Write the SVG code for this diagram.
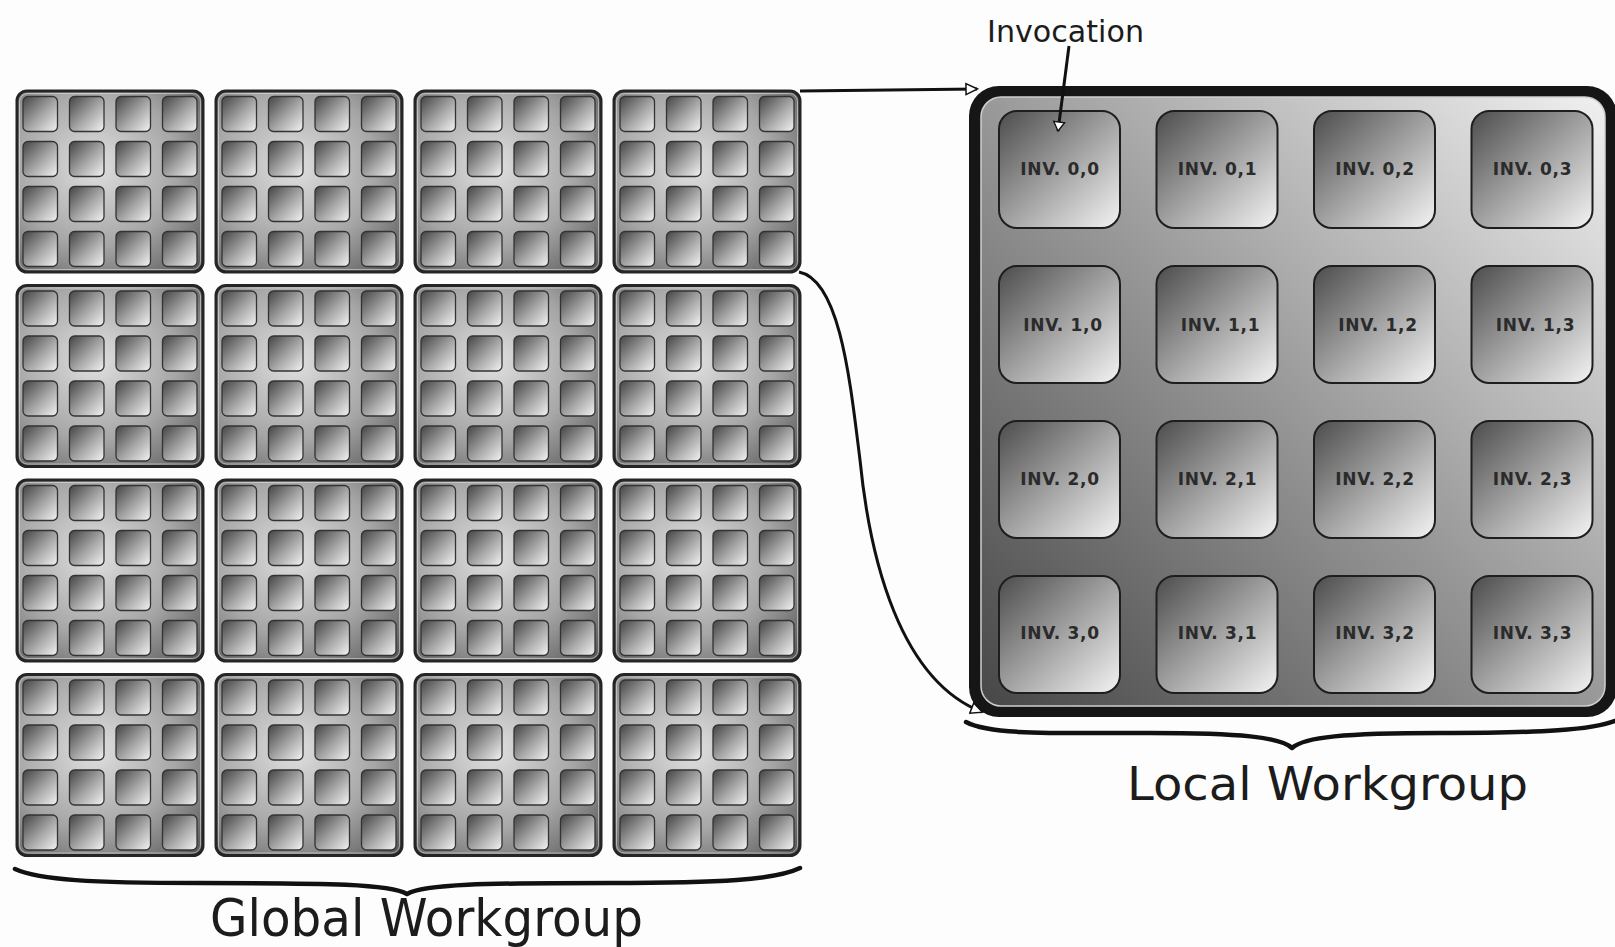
<svg xmlns="http://www.w3.org/2000/svg" xmlns:xlink="http://www.w3.org/1999/xlink" width="1615" height="947" viewBox="0 0 1615 947">
<style>
.tileFrame{fill:url(#tileBg);stroke:#252525;stroke-width:3}
.tileHi{fill:none;stroke:#e6e6e6;stroke-opacity:0.55;stroke-width:1}
.sq{fill:url(#sqGrad);stroke:#333;stroke-width:1.3}
.inv{fill:url(#invGrad);stroke:#1e1e1e;stroke-width:2}
.invText{font-family:"DejaVu Sans",Verdana,sans-serif;font-weight:bold;font-size:17px;letter-spacing:0.7px;fill:#2b2b2b;text-anchor:middle}
.label{font-family:"DejaVu Sans",Verdana,sans-serif;fill:#1c1c1c}
.conn{fill:none;stroke:#111;stroke-width:3}
.brace{fill:none;stroke:#111;stroke-width:4.5;stroke-linecap:round;stroke-linejoin:round}
</style>
<defs>
<radialGradient id="tileBg" cx="0.42" cy="0.42" r="0.8">
<stop offset="0" stop-color="#e0e0e0"/>
<stop offset="0.55" stop-color="#a6a6a6"/>
<stop offset="1" stop-color="#555"/>
</radialGradient>
<linearGradient id="sqGrad" x1="0" y1="0" x2="1" y2="1">
<stop offset="0" stop-color="#444"/>
<stop offset="0.55" stop-color="#a8a8a8"/>
<stop offset="1" stop-color="#f4f4f4"/>
</linearGradient>
<linearGradient id="invGrad" x1="0" y1="0" x2="1" y2="1">
<stop offset="0" stop-color="#4c4c4c"/>
<stop offset="0.55" stop-color="#a9a9a9"/>
<stop offset="1" stop-color="#f4f4f4"/>
</linearGradient>
<linearGradient id="lwBg" x1="0" y1="1" x2="1" y2="0">
<stop offset="0" stop-color="#474747"/>
<stop offset="0.5" stop-color="#999"/>
<stop offset="1" stop-color="#f0f0f0"/>
</linearGradient>
<marker id="arrowOpen" viewBox="0 0 14 14" refX="12" refY="7" markerWidth="14" markerHeight="14" markerUnits="userSpaceOnUse" orient="auto">
<path d="M1,1.5 L12.5,7 L1,12.5 Z" fill="#fff" stroke="#111" stroke-width="1.5"/>
</marker>
<marker id="arrowSmall" viewBox="0 0 12 14" refX="10" refY="7" markerWidth="12" markerHeight="14" markerUnits="userSpaceOnUse" orient="auto">
<path d="M1,1.5 L10,7 L1,12.5 Z" fill="#fff" stroke="#111" stroke-width="1.3"/>
</marker>
<g id="tile">
<rect class="tileFrame" x="0" y="0" width="186" height="181" rx="10"/>
<rect class="tileHi" x="2.5" y="2.5" width="181" height="176" rx="8"/>
<rect class="sq" x="6" y="5.5" width="34.5" height="35" rx="5"/>
<rect class="sq" x="52.5" y="5.5" width="34.5" height="35" rx="5"/>
<rect class="sq" x="99" y="5.5" width="34.5" height="35" rx="5"/>
<rect class="sq" x="145.5" y="5.5" width="34.5" height="35" rx="5"/>
<rect class="sq" x="6" y="50.5" width="34.5" height="35" rx="5"/>
<rect class="sq" x="52.5" y="50.5" width="34.5" height="35" rx="5"/>
<rect class="sq" x="99" y="50.5" width="34.5" height="35" rx="5"/>
<rect class="sq" x="145.5" y="50.5" width="34.5" height="35" rx="5"/>
<rect class="sq" x="6" y="95.5" width="34.5" height="35" rx="5"/>
<rect class="sq" x="52.5" y="95.5" width="34.5" height="35" rx="5"/>
<rect class="sq" x="99" y="95.5" width="34.5" height="35" rx="5"/>
<rect class="sq" x="145.5" y="95.5" width="34.5" height="35" rx="5"/>
<rect class="sq" x="6" y="140.5" width="34.5" height="35" rx="5"/>
<rect class="sq" x="52.5" y="140.5" width="34.5" height="35" rx="5"/>
<rect class="sq" x="99" y="140.5" width="34.5" height="35" rx="5"/>
<rect class="sq" x="145.5" y="140.5" width="34.5" height="35" rx="5"/>
</g>
</defs>
<rect x="0" y="0" width="1615" height="947" fill="#fdfdfd"/>

<g id="global-workgroup">
<g id="wg-0-0"><use xlink:href="#tile" href="#tile" x="17" y="91"/></g>
<g id="wg-0-1"><use xlink:href="#tile" href="#tile" x="216" y="91"/></g>
<g id="wg-0-2"><use xlink:href="#tile" href="#tile" x="415" y="91"/></g>
<g id="wg-0-3"><use xlink:href="#tile" href="#tile" x="614" y="91"/></g>
<g id="wg-1-0"><use xlink:href="#tile" href="#tile" x="17" y="285.5"/></g>
<g id="wg-1-1"><use xlink:href="#tile" href="#tile" x="216" y="285.5"/></g>
<g id="wg-1-2"><use xlink:href="#tile" href="#tile" x="415" y="285.5"/></g>
<g id="wg-1-3"><use xlink:href="#tile" href="#tile" x="614" y="285.5"/></g>
<g id="wg-2-0"><use xlink:href="#tile" href="#tile" x="17" y="480"/></g>
<g id="wg-2-1"><use xlink:href="#tile" href="#tile" x="216" y="480"/></g>
<g id="wg-2-2"><use xlink:href="#tile" href="#tile" x="415" y="480"/></g>
<g id="wg-2-3"><use xlink:href="#tile" href="#tile" x="614" y="480"/></g>
<g id="wg-3-0"><use xlink:href="#tile" href="#tile" x="17" y="674.5"/></g>
<g id="wg-3-1"><use xlink:href="#tile" href="#tile" x="216" y="674.5"/></g>
<g id="wg-3-2"><use xlink:href="#tile" href="#tile" x="415" y="674.5"/></g>
<g id="wg-3-3"><use xlink:href="#tile" href="#tile" x="614" y="674.5"/></g>
</g>

<g id="global-brace">
<path class="brace" d="M15,869 C40,880 90,883 200,883 C330,883 390,884 407,894 C424,884 484,883 610,883 C720,883 775,880 800,868"/>
<text class="label" x="210" y="936" font-size="52" textLength="433" lengthAdjust="spacingAndGlyphs">Global Workgroup</text>
</g>

<g id="local-workgroup">
<rect x="969" y="86" width="648" height="631" rx="30" fill="#161616"/>
<rect x="981" y="97" width="624" height="609" rx="20" fill="url(#lwBg)" stroke="#cfcfcf" stroke-width="1.5"/>
</g>

<g id="inv-0-0"><rect class="inv" x="999" y="111" width="121" height="117" rx="18"/><text class="invText" x="1060" y="175">INV. 0,0</text></g>
<g id="inv-0-1"><rect class="inv" x="1156.5" y="111" width="121" height="117" rx="18"/><text class="invText" x="1217.5" y="175">INV. 0,1</text></g>
<g id="inv-0-2"><rect class="inv" x="1314" y="111" width="121" height="117" rx="18"/><text class="invText" x="1375" y="175">INV. 0,2</text></g>
<g id="inv-0-3"><rect class="inv" x="1471.5" y="111" width="121" height="117" rx="18"/><text class="invText" x="1532.5" y="175">INV. 0,3</text></g>
<g id="inv-1-0"><rect class="inv" x="999" y="266" width="121" height="117" rx="18"/><text class="invText" x="1063" y="331">INV. 1,0</text></g>
<g id="inv-1-1"><rect class="inv" x="1156.5" y="266" width="121" height="117" rx="18"/><text class="invText" x="1220.5" y="331">INV. 1,1</text></g>
<g id="inv-1-2"><rect class="inv" x="1314" y="266" width="121" height="117" rx="18"/><text class="invText" x="1378" y="331">INV. 1,2</text></g>
<g id="inv-1-3"><rect class="inv" x="1471.5" y="266" width="121" height="117" rx="18"/><text class="invText" x="1535.5" y="331">INV. 1,3</text></g>
<g id="inv-2-0"><rect class="inv" x="999" y="421" width="121" height="117" rx="18"/><text class="invText" x="1060" y="485">INV. 2,0</text></g>
<g id="inv-2-1"><rect class="inv" x="1156.5" y="421" width="121" height="117" rx="18"/><text class="invText" x="1217.5" y="485">INV. 2,1</text></g>
<g id="inv-2-2"><rect class="inv" x="1314" y="421" width="121" height="117" rx="18"/><text class="invText" x="1375" y="485">INV. 2,2</text></g>
<g id="inv-2-3"><rect class="inv" x="1471.5" y="421" width="121" height="117" rx="18"/><text class="invText" x="1532.5" y="485">INV. 2,3</text></g>
<g id="inv-3-0"><rect class="inv" x="999" y="576" width="121" height="117" rx="18"/><text class="invText" x="1060" y="639">INV. 3,0</text></g>
<g id="inv-3-1"><rect class="inv" x="1156.5" y="576" width="121" height="117" rx="18"/><text class="invText" x="1217.5" y="639">INV. 3,1</text></g>
<g id="inv-3-2"><rect class="inv" x="1314" y="576" width="121" height="117" rx="18"/><text class="invText" x="1375" y="639">INV. 3,2</text></g>
<g id="inv-3-3"><rect class="inv" x="1471.5" y="576" width="121" height="117" rx="18"/><text class="invText" x="1532.5" y="639">INV. 3,3</text></g>

<g id="local-brace">
<path class="brace" d="M966,722 C990,735 1050,733 1150,733 C1240,733 1280,737 1292,748 C1304,737 1344,733 1440,733 C1540,733 1595,730 1617,720"/>
<text class="label" x="1127" y="800" font-size="47" textLength="401" lengthAdjust="spacingAndGlyphs">Local Workgroup</text>
</g>

<g id="invocation-label">
<text class="label" x="987" y="42" font-size="30" textLength="157" lengthAdjust="spacingAndGlyphs">Invocation</text>
</g>

<g id="connectors">
<path class="conn" d="M800,91 L977,89" marker-end="url(#arrowOpen)"/>
<path class="conn" d="M799,272 C840,280 850,380 860,460 C870,560 900,680 982,712" marker-end="url(#arrowOpen)"/>
<path class="conn" d="M1069,46 L1058,131" stroke-width="2.4" marker-end="url(#arrowSmall)"/>
</g>
</svg>
